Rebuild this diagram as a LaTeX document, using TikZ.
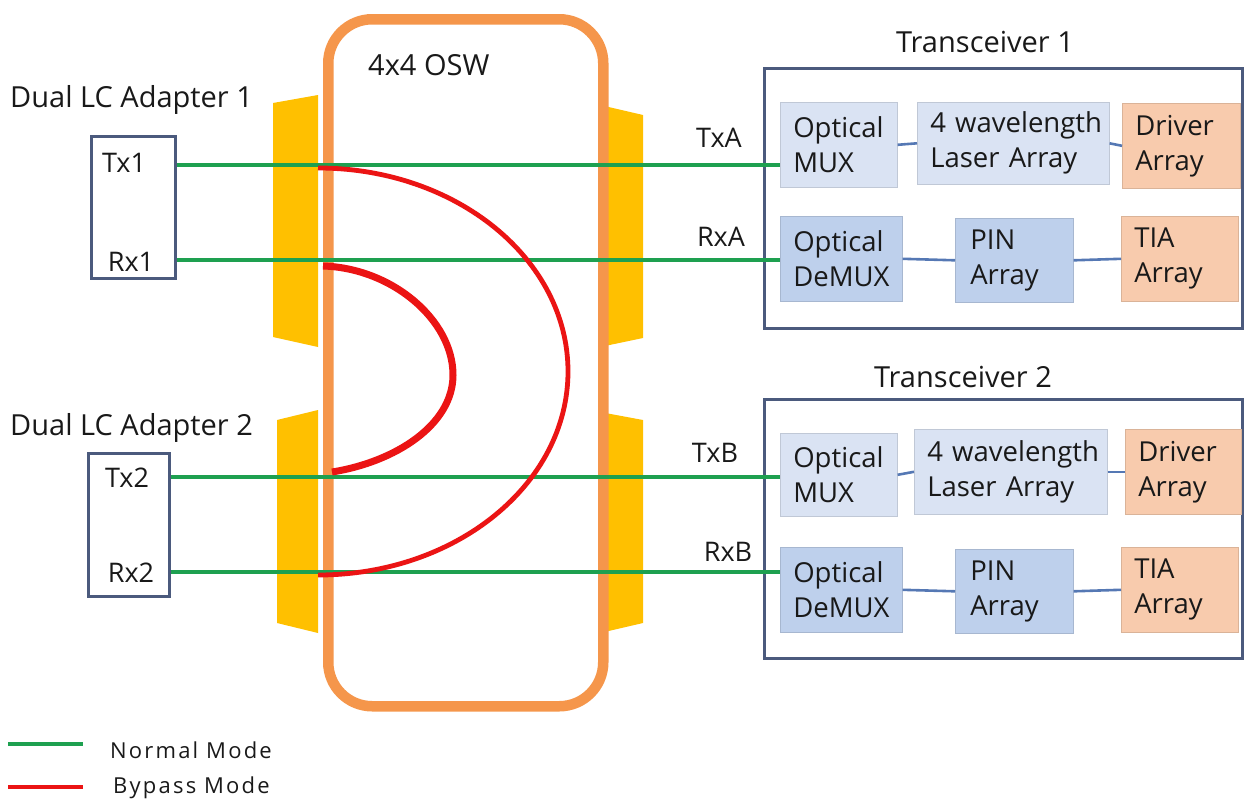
\documentclass[tikz,border=0pt]{standalone}
\usepackage{fontspec}
\setmainfont{Open Sans}
\newfontfamily\legfont[LetterSpace=10]{Open Sans}
\definecolor{osw}{RGB}{245,150,75}
\definecolor{yel}{RGB}{255,192,0}
\definecolor{grn}{RGB}{30,160,80}
\definecolor{rd}{RGB}{235,20,20}
\definecolor{frm}{RGB}{75,90,125}
\definecolor{lb}{RGB}{218,227,243}
\definecolor{mb}{RGB}{190,208,236}
\definecolor{pe}{RGB}{248,203,173}
\definecolor{conn}{RGB}{85,120,180}
\definecolor{txt}{RGB}{25,25,25}
\begin{document}
\begin{tikzpicture}[x=1pt,y=-1pt,
  lab/.style={font=\fontsize{27}{34}\selectfont, text=txt, inner sep=0pt},
  biglab/.style={font=\fontsize{29}{34}\selectfont, text=txt, inner sep=0pt},
  leg/.style={font=\legfont\fontsize{22}{26}\selectfont, text=txt, inner sep=0pt, anchor=west},
  blk/.style={rectangle, fill=#1, draw=#1!88!black, line width=0.6pt, align=left,
     inner xsep=13pt, inner ysep=0pt, anchor=north west,
     font=\fontsize{27.5}{35}\selectfont, text=txt},
  framebox/.style={rectangle, draw=frm, line width=3.2pt, anchor=north west, inner sep=0pt},
  adbox/.style={rectangle, draw=frm, line width=2.8pt, anchor=north west, inner sep=0pt},
  normal/.style={draw=grn, line width=4pt},
  bypass/.style={draw=rd, line width=#1},
  bypass/.default=4.8pt,
  link/.style={draw=conn, line width=2.6pt}]
\useasboundingbox (0,0) rectangle (1244,801);

% yellow connector blocks
\fill[yel] (273,103) -- (318,95) -- (318,347) -- (273,337) -- cycle;
\fill[yel] (277,420) -- (318,410) -- (318,633) -- (277,623) -- cycle;
\fill[yel] (600,105) -- (643,115) -- (643,338) -- (600,347) -- cycle;
\fill[yel] (600,412) -- (643,420) -- (643,623) -- (600,633) -- cycle;

% OSW body
\node[rectangle, draw=osw, fill=white, line width=10.5pt, rounded corners=44pt,
      minimum width=275pt, minimum height=687pt, anchor=north west, inner sep=0pt]
      (osw) at (323,14) {};
\node[biglab, anchor=west] (oswlab) at (368,65) {4x4 OSW};

% adapters
\node[biglab, anchor=west] (ad1lab) at (10,100) {Dual LC Adapter 1};
\node[adbox, minimum width=84pt, minimum height=142pt] (ad1) at (90,135) {};
\node[lab] (tx1) at (124,163) {Tx1};
\node[lab] (rx1) at (131,262) {Rx1};

\node[biglab, anchor=west] (ad2lab) at (10,428) {Dual LC Adapter 2};
\node[adbox, minimum width=81pt, minimum height=143pt] (ad2) at (87,452) {};
\node[lab] (tx2) at (127,478) {Tx2};
\node[lab] (rx2) at (131,573) {Rx2};

% transceiver 1
\node[biglab] (t1lab) at (985,42) {Transceiver 1};
\node[framebox, minimum width=478pt, minimum height=260pt] (tr1) at (763,67) {};
\node[blk=lb, minimum height=85pt, text width=91pt] (mux1) at (780,102) {Optical\\MUX};
\node[blk=lb, minimum height=82pt, text width=166pt] (las1) at (917,102) {\mbox{4 wavelength}\\Laser Array};
\node[blk=pe, minimum height=85pt, text width=92pt] (drv1) at (1122,103) {Driver\\Array};
\node[blk=mb, minimum height=85pt, text width=96pt] (dmx1) at (780,216) {Optical\\DeMUX};
\node[blk=mb, minimum height=84pt, text width=88pt, inner xsep=15pt] (pin1) at (955,218) {PIN\\Array};
\node[blk=pe, minimum height=85pt, text width=91pt] (tia1) at (1121,216) {TIA\\Array};
\draw[link] (mux1.east) -- (las1.west);
\draw[link] (las1.east) -- (drv1.west);
\draw[link] (dmx1.east) -- (pin1.west);
\draw[link] (pin1.east) -- (tia1.west);
\node[lab] (txa) at (719,138) {TxA};
\node[lab] (rxa) at (721,237) {RxA};

% transceiver 2
\node[biglab] (t2lab) at (963,377) {Transceiver 2};
\node[framebox, minimum width=478pt, minimum height=259pt] (tr2) at (763,398) {};
\node[blk=lb, minimum height=83pt, text width=91pt] (mux2) at (780,433) {Optical\\MUX};
\node[blk=lb, minimum height=85pt, text width=167pt] (las2) at (914,429) {\mbox{4 wavelength}\\Laser Array};
\node[blk=pe, minimum height=85pt, text width=90pt] (drv2) at (1125,429) {Driver\\Array};
\node[blk=mb, minimum height=85pt, text width=96pt] (dmx2) at (780,547) {Optical\\DeMUX};
\node[blk=mb, minimum height=84pt, text width=88pt, inner xsep=15pt] (pin2) at (955,549) {PIN\\Array};
\node[blk=pe, minimum height=85pt, text width=91pt] (tia2) at (1121,547) {TIA\\Array};
\draw[link] (mux2.east) -- (las2.west);
\draw[link] (las2.east) -- (drv2.west);
\draw[link] (dmx2.east) -- (pin2.west);
\draw[link] (pin2.east) -- (tia2.west);
\node[lab] (txb) at (715,453) {TxB};
\node[lab] (rxb) at (728,552) {RxB};

% signal rows
\coordinate (r1) at (0,165);
\coordinate (r2) at (0,260);
\coordinate (r3) at (0,477);
\coordinate (r4) at (0,572);
\draw[normal] (ad1.east |- r1) -- (mux1.west |- r1);
\draw[normal] (ad1.east |- r2) -- (dmx1.west |- r2);
\draw[normal] (ad2.east |- r3) -- (mux2.west |- r3);
\draw[normal] (ad2.east |- r4) -- (dmx2.west |- r4);

% bypass paths
\coordinate (b1) at (318,168);
\coordinate (b4) at (318,575);
\coordinate (c1) at (323,266);
\coordinate (c3) at (332,472);
\draw[bypass] (b1) .. controls (456,168) and (568,259) .. (568,371.5)
              .. controls (568,484) and (456,575) .. (b4);
\draw[bypass=7pt] (c1) .. controls (392,268) and (453,320) .. (453,375)
              .. controls (453,425) and (395,462) .. (c3);

% legend
\coordinate (l1a) at (8,744);
\coordinate (l1b) at (83,744);
\coordinate (l2a) at (8,787);
\coordinate (l2b) at (83,787);
\draw[normal, line width=3.4pt] (l1a) -- (l1b);
\draw[draw=rd, line width=3.4pt] (l2a) -- (l2b);
\node[leg] (nm) at (110,750) {Normal Mode};
\node[leg] (bm) at (113,788) {Bypass Mode};
\end{tikzpicture}
\end{document}
